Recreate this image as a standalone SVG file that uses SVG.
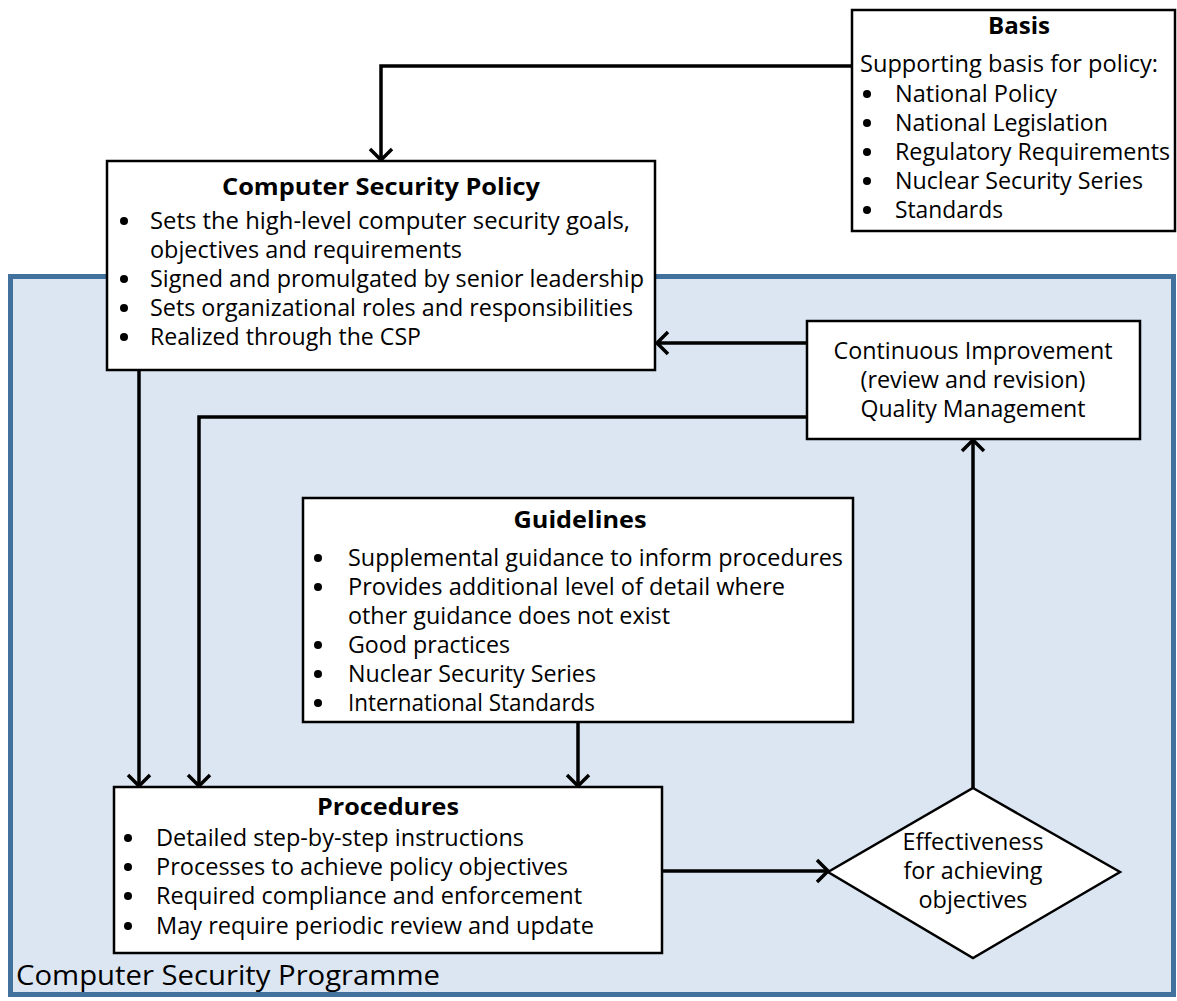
<svg xmlns="http://www.w3.org/2000/svg" width="1177" height="1001" viewBox="0 0 1177 1001">
  <style>
    .box { fill: #ffffff; stroke: #000000; stroke-width: 2.5; }
    .prog { fill: #dce6f2; stroke: #41719c; stroke-width: 5; }
    .t { font-family: "Open Sans", "Noto Sans", sans-serif; font-size: 23px; fill: #000000; }
    .h { font-weight: bold; text-anchor: middle; }
    .c { text-anchor: middle; }
    .lbl { font-family: "Open Sans", "Noto Sans", sans-serif; font-size: 28px; fill: #000000; }
    .wire { fill: none; stroke: #000000; stroke-width: 3.5; }
    .dot { fill: #000000; }
  </style>
  <defs>
    <marker id="vee" markerUnits="userSpaceOnUse" viewBox="-14 -14 16 28" refX="0" refY="0" markerWidth="16" markerHeight="28" orient="auto">
      <path d="M -11 -11 L 0 0 L -11 11" fill="none" stroke="#000000" stroke-width="3.5" stroke-linejoin="miter"/>
    </marker>
  </defs>

  <rect width="1177" height="1001" fill="#ffffff"/>

  <!-- programme container -->
  <g id="programme">
    <rect class="prog" x="10.5" y="276.5" width="1163" height="718"/>
    <text class="lbl" x="16" y="985" textLength="424" lengthAdjust="spacingAndGlyphs">Computer Security Programme</text>
  </g>

  <!-- connectors -->
  <g id="connectors">
    <path class="wire" d="M 852 66 L 381 66 L 381 160" marker-end="url(#vee)"/>
    <path class="wire" d="M 807 343 L 657 343" marker-end="url(#vee)"/>
    <path class="wire" d="M 807 417 L 199 417 L 199 786" marker-end="url(#vee)"/>
    <path class="wire" d="M 139 370 L 139 786" marker-end="url(#vee)"/>
    <path class="wire" d="M 578 722 L 578 786" marker-end="url(#vee)"/>
    <path class="wire" d="M 662 871 L 828 871" marker-end="url(#vee)"/>
    <path class="wire" d="M 973 788 L 973 440" marker-end="url(#vee)"/>
  </g>

  <!-- basis -->
  <g id="basis">
    <rect class="box" x="852" y="10" width="323" height="221"/>
    <text class="t h" x="1019" y="34" textLength="62" lengthAdjust="spacingAndGlyphs">Basis</text>
    <text class="t" x="860" y="72" textLength="298" lengthAdjust="spacingAndGlyphs">Supporting basis for policy:</text>
    <circle class="dot" cx="867" cy="94" r="4"/>
    <text class="t" x="895" y="102" textLength="162" lengthAdjust="spacingAndGlyphs">National Policy</text>
    <circle class="dot" cx="867" cy="123" r="4"/>
    <text class="t" x="895" y="131" textLength="213" lengthAdjust="spacingAndGlyphs">National Legislation</text>
    <circle class="dot" cx="867" cy="152" r="4"/>
    <text class="t" x="895" y="160" textLength="275" lengthAdjust="spacingAndGlyphs">Regulatory Requirements</text>
    <circle class="dot" cx="867" cy="181" r="4"/>
    <text class="t" x="895" y="189" textLength="248" lengthAdjust="spacingAndGlyphs">Nuclear Security Series</text>
    <circle class="dot" cx="867" cy="210" r="4"/>
    <text class="t" x="895" y="218" textLength="108" lengthAdjust="spacingAndGlyphs">Standards</text>
  </g>

  <!-- computer security policy -->
  <g id="policy">
    <rect class="box" x="107" y="161" width="548" height="209"/>
    <text class="t h" x="381" y="195" textLength="318" lengthAdjust="spacingAndGlyphs">Computer Security Policy</text>
    <circle class="dot" cx="124" cy="221" r="4"/>
    <text class="t" x="150" y="229" textLength="480" lengthAdjust="spacingAndGlyphs">Sets the high-level computer security goals,</text>
    <text class="t" x="150" y="258" textLength="312" lengthAdjust="spacingAndGlyphs">objectives and requirements</text>
    <circle class="dot" cx="124" cy="279" r="4"/>
    <text class="t" x="150" y="287" textLength="494" lengthAdjust="spacingAndGlyphs">Signed and promulgated by senior leadership</text>
    <circle class="dot" cx="124" cy="308" r="4"/>
    <text class="t" x="150" y="316" textLength="483" lengthAdjust="spacingAndGlyphs">Sets organizational roles and responsibilities</text>
    <circle class="dot" cx="124" cy="337" r="4"/>
    <text class="t" x="150" y="345" textLength="271" lengthAdjust="spacingAndGlyphs">Realized through the CSP</text>
  </g>

  <!-- continuous improvement -->
  <g id="improvement">
    <rect class="box" x="807" y="321" width="333" height="118"/>
    <text class="t c" x="973" y="359" textLength="279" lengthAdjust="spacingAndGlyphs">Continuous Improvement</text>
    <text class="t c" x="973" y="388" textLength="225" lengthAdjust="spacingAndGlyphs">(review and revision)</text>
    <text class="t c" x="973" y="417" textLength="225" lengthAdjust="spacingAndGlyphs">Quality Management</text>
  </g>

  <!-- guidelines -->
  <g id="guidelines">
    <rect class="box" x="303" y="498" width="550" height="224"/>
    <text class="t h" x="580" y="528" textLength="133" lengthAdjust="spacingAndGlyphs">Guidelines</text>
    <circle class="dot" cx="318" cy="558" r="4"/>
    <text class="t" x="348" y="566" textLength="495" lengthAdjust="spacingAndGlyphs">Supplemental guidance to inform procedures</text>
    <circle class="dot" cx="318" cy="587" r="4"/>
    <text class="t" x="348" y="595" textLength="437" lengthAdjust="spacingAndGlyphs">Provides additional level of detail where</text>
    <text class="t" x="348" y="624" textLength="322" lengthAdjust="spacingAndGlyphs">other guidance does not exist</text>
    <circle class="dot" cx="318" cy="645" r="4"/>
    <text class="t" x="348" y="653" textLength="162" lengthAdjust="spacingAndGlyphs">Good practices</text>
    <circle class="dot" cx="318" cy="674" r="4"/>
    <text class="t" x="348" y="682" textLength="248" lengthAdjust="spacingAndGlyphs">Nuclear Security Series</text>
    <circle class="dot" cx="318" cy="703" r="4"/>
    <text class="t" x="348" y="711" textLength="247" lengthAdjust="spacingAndGlyphs">International Standards</text>
  </g>

  <!-- procedures -->
  <g id="procedures">
    <rect class="box" x="114" y="787" width="548" height="166"/>
    <text class="t h" x="388" y="815" textLength="142" lengthAdjust="spacingAndGlyphs">Procedures</text>
    <circle class="dot" cx="128" cy="838" r="4"/>
    <text class="t" x="156" y="846" textLength="368" lengthAdjust="spacingAndGlyphs">Detailed step-by-step instructions</text>
    <circle class="dot" cx="128" cy="867" r="4"/>
    <text class="t" x="156" y="875" textLength="412" lengthAdjust="spacingAndGlyphs">Processes to achieve policy objectives</text>
    <circle class="dot" cx="128" cy="896" r="4"/>
    <text class="t" x="156" y="904" textLength="426" lengthAdjust="spacingAndGlyphs">Required compliance and enforcement</text>
    <circle class="dot" cx="128" cy="926" r="4"/>
    <text class="t" x="156" y="934" textLength="438" lengthAdjust="spacingAndGlyphs">May require periodic review and update</text>
  </g>

  <!-- effectiveness decision -->
  <g id="effectiveness">
    <polygon class="box" points="973,788 1120,872 973,958 828,872"/>
    <text class="t c" x="973" y="850" textLength="141" lengthAdjust="spacingAndGlyphs">Effectiveness</text>
    <text class="t c" x="973" y="879" textLength="139" lengthAdjust="spacingAndGlyphs">for achieving</text>
    <text class="t c" x="973" y="908" textLength="109" lengthAdjust="spacingAndGlyphs">objectives</text>
  </g>
</svg>
